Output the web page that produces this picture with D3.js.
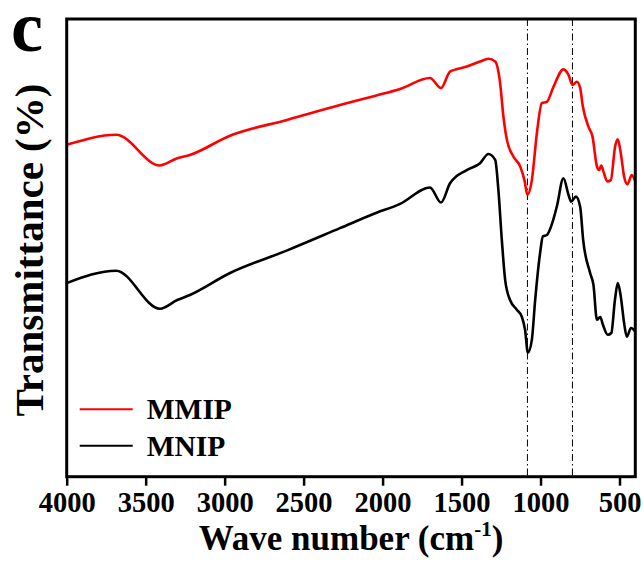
<!DOCTYPE html>
<html>
<head>
<meta charset="utf-8">
<script src="https://cdn.jsdelivr.net/npm/d3@7"></script>
<style>
  body { margin: 0; background: #fff; }
  text { font-family: "Liberation Serif", "Times New Roman", serif; font-weight: bold; }
</style>
</head>
<body>
<div id="chart"></div>
<script>
(function() {
  // wavenumbers (cm-1)
  var waveMMIP = [4000, 3687, 3410, 3300, 3220, 2966, 2600, 2270, 2050, 1889, 1700, 1630, 1573, 1467, 1383, 1330, 1287,
    1256, 1235, 1213, 1171, 1129, 1102, 1083, 1055, 1023, 992, 960, 918, 855, 823, 798, 770, 749, 732, 697, 671,
    643, 629, 616, 602, 577, 555, 528, 511, 492, 471, 450, 422, 400];
  var valMMIP = [72.5, 74.7, 68.0, 69.6, 70.3, 74.5, 78.0, 81.2, 83.2, 84.7, 87.1, 84.9, 88.5, 89.6, 90.7, 91.3, 90.7,
    86.0, 78.7, 73.6, 69.9, 67.8, 64.8, 61.6, 64.8, 75.1, 81.6, 81.9, 85.2, 89.0, 87.8, 85.6, 86.3, 84.9, 80.9, 76.5, 74.3,
    67.8, 67.0, 68.0, 66.7, 64.5, 64.8, 72.1, 73.7, 70.7, 65.6, 63.9, 65.9, 64.5];

  var waveMNIP = [4000, 3687, 3410, 3300, 3220, 2966, 2600, 2270, 2050, 1889, 1700, 1630, 1573, 1467, 1383, 1330, 1287,
    1267, 1245, 1224, 1193, 1150, 1119, 1098, 1080, 1055, 1034, 1003, 985, 960, 926, 897, 855, 823, 806, 776, 749,
    730, 686, 665, 643, 622, 605, 574, 552, 529, 511, 492, 471, 454, 427, 400];
  var valMNIP = [42.3, 45.0, 36.7, 38.6, 39.7, 44.5, 49.5, 54.3, 57.5, 59.6, 63.2, 59.9, 64.1, 67.0, 68.5, 70.5, 69.2,
    62.7, 51.7, 43.0, 38.6, 36.5, 35.0, 32.1, 27.1, 29.9, 38.6, 48.8, 52.5, 52.8, 55.4, 59.0, 65.2, 61.6, 60.1, 61.2, 59.0,
    51.7, 44.5, 41.9, 34.3, 34.9, 33.2, 31.0, 31.4, 38.6, 42.3, 39.4, 33.6, 30.6, 32.5, 31.7];

  var xTicks = [4000, 3500, 3000, 2500, 2000, 1500, 1000, 500];
  var markers = [1083, 798];
  var seriesNames = ["MMIP", "MNIP"];
  var seriesColors = ["#ff0000", "#000000"];

  var margin = { top: 19, left: 66.7, right: 7.7, bottom: 88.3 },
      width = 643 - margin.left - margin.right,
      height = 565 - margin.top - margin.bottom;

  var svg = d3.select("#chart")
    .append("svg")
    .attr("width", 643)
    .attr("height", 565);

  var g = svg.append("g")
    .attr("transform", "translate(" + margin.left + "," + margin.top + ")");

  var xPositionScale = d3.scaleLinear()
    .domain([4000, 400])
    .range([0, width]);

  var yPositionScale = d3.scaleLinear()
    .domain([0, 100])
    .range([height, 0]);

  // dash-dot marker lines
  g.selectAll(".marker")
    .data(markers)
    .enter().append("line")
    .attr("class", "marker")
    .attr("x1", function(d) { return xPositionScale(d); })
    .attr("x2", function(d) { return xPositionScale(d); })
    .attr("y1", 0)
    .attr("y2", height)
    .attr("stroke", "#000")
    .attr("stroke-width", 1)
    .attr("stroke-dasharray", "7,3,1.5,3");

  var line = d3.line()
    .x(function(d) { return xPositionScale(d[0]); })
    .y(function(d) { return yPositionScale(d[1]); })
    .curve(d3.curveMonotoneX);

  var series = [d3.zip(waveMMIP, valMMIP), d3.zip(waveMNIP, valMNIP)];

  g.selectAll(".spectrum")
    .data(series)
    .enter().append("path")
    .attr("class", "spectrum")
    .attr("d", line)
    .attr("fill", "none")
    .attr("stroke", function(d, i) { return seriesColors[i]; })
    .attr("stroke-width", 2.6)
    .attr("stroke-linejoin", "round");

  // frame
  g.append("rect")
    .attr("width", width)
    .attr("height", height)
    .attr("fill", "none")
    .attr("stroke", "#000")
    .attr("stroke-width", 3);

  var xAxis = d3.axisBottom(xPositionScale)
    .tickValues(xTicks)
    .tickFormat(d3.format("d"))
    .tickSize(9)
    .tickSizeOuter(0)
    .tickPadding(6);

  var ax = g.append("g")
    .attr("class", "axis x-axis")
    .attr("transform", "translate(0," + height + ")")
    .call(xAxis);
  ax.select(".domain").remove();
  ax.selectAll(".tick line").attr("stroke-width", 2.5);
  ax.selectAll(".tick text")
    .attr("font-size", 28.5)
    .attr("font-family", "Liberation Serif")
    .attr("font-weight", "bold")
    .attr("fill", "#000");

  // legend
  var legend = g.selectAll(".legend")
    .data(seriesNames)
    .enter().append("g")
    .attr("class", "legend")
    .attr("transform", function(d, i) { return "translate(13," + (390.3 + i * 36.4) + ")"; });
  legend.append("line")
    .attr("x1", 0).attr("x2", 53)
    .attr("stroke", function(d, i) { return seriesColors[i]; })
    .attr("stroke-width", 2);
  legend.append("text")
    .attr("x", 67)
    .attr("y", 10)
    .attr("font-size", 29.5)
    .text(function(d) { return d; });

  // axis titles
  var xt = svg.append("text")
    .attr("x", 351)
    .attr("y", 550)
    .attr("text-anchor", "middle")
    .attr("font-size", 35);
  xt.append("tspan").text("Wave number (cm");
  xt.append("tspan").attr("font-size", 21).attr("dy", -14).text("-1");
  xt.append("tspan").attr("dy", 14).text(")");

  svg.append("text")
    .attr("transform", "translate(43,250) rotate(-90)")
    .attr("text-anchor", "middle")
    .attr("font-size", 41)
    .text("Transmittance (%)");

  svg.append("text")
    .attr("x", 11)
    .attr("y", 51)
    .attr("font-size", 72)
    .text("c");
})();
</script>
</body>
</html>
